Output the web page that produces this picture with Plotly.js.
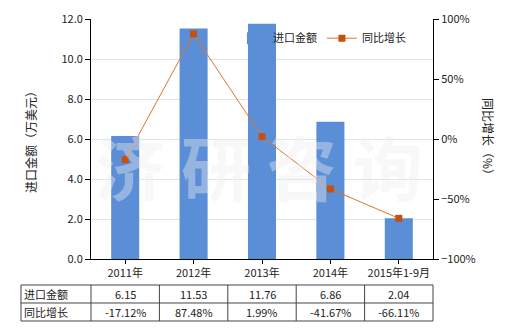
<!DOCTYPE html>
<html><head><meta charset="utf-8">
<script src="https://cdn.plot.ly/plotly-3.0.1.min.js"></script>
<style>html,body{margin:0;padding:0;background:#fff}#c{width:520px;height:330px}</style>
</head><body><div id="c"></div>
<script>
const categories = ['2011年','2012年','2013年','2014年','2015年1-9月'];
const importValues = [6.15, 11.53, 11.76, 6.86, 2.04];
const growthValues = [-17.12, 87.48, 1.99, -41.67, -66.11];
const importLabels = ['6.15','11.53','11.76','6.86','2.04'];
const growthLabels = ['-17.12%','87.48%','1.99%','-41.67%','-66.11%'];
const seriesNames = ['进口金额','同比增长'];

const FONT = 'Noto Sans CJK SC, DejaVu Sans, sans-serif';
const rowY = [-0.146, -0.221];
const A = {showarrow:false,xanchor:'center',yanchor:'middle'};
const annotations = [];
importLabels.forEach((t,i)=>annotations.push({...A,x:categories[i],xref:'x',y:rowY[0],yref:'paper',text:t,font:{size:11,color:'#222'}}));
growthLabels.forEach((t,i)=>annotations.push({...A,x:categories[i],xref:'x',y:rowY[1],yref:'paper',text:t,font:{size:11,color:'#222'}}));
seriesNames.forEach((t,i)=>annotations.push({...A,x:-0.202,xref:'paper',xanchor:'left',y:rowY[i],yref:'paper',text:t,font:{size:11,color:'#222'}}));
annotations.push({...A,x:-0.178,xref:'paper',y:0.5,yref:'paper',text:'进口金额（万美元）',textangle:-90,font:{size:12,color:'#222'}});
annotations.push({...A,x:1.164,xref:'paper',y:0.5,yref:'paper',text:'同比增长（%）',textangle:90,font:{size:12,color:'#222'}});
annotations.push({...A,x:0.49,xref:'paper',y:0.39,yref:'paper',text:'济 研 咨 询',font:{size:70,color:'rgba(238,238,238,0.4)',weight:'bold'}});

const shapes = [];
const tl = {color:'#444',width:1};
[-0.1083,-0.1833,-0.2583].forEach(y=>shapes.push({type:'line',xref:'paper',yref:'paper',x0:-0.2047,x1:1,y0:y,y1:y,line:tl}));
[-0.2047,0,0.2,0.4,0.6,0.8,1].forEach(x=>shapes.push({type:'line',xref:'paper',yref:'paper',x0:x,x1:x,y0:-0.1083,y1:-0.2583,line:tl}));

const data = [
 {type:'bar',name:seriesNames[0],x:categories,y:importValues,marker:{color:'#5a8ed6'},width:0.41},
 {type:'scatter',mode:'lines+markers',name:seriesNames[1],x:categories,y:growthValues,yaxis:'y2',
  line:{color:'#e0752a',width:1},marker:{symbol:'square',size:7,color:'#c8500f'}}
];
const layout = {
 width:520,height:330,margin:{l:91,r:87,t:19,b:71,autoexpand:false},
 paper_bgcolor:'#fff',plot_bgcolor:'#fff',
 font:{family:FONT,size:11,color:'#222'},
 showlegend:true,
 legend:{orientation:'h',x:0.415,xanchor:'left',y:0.92,yanchor:'middle',bgcolor:'rgba(0,0,0,0)',font:{size:11},itemwidth:30},
 bargap:0.59,
 xaxis:{type:'category',showline:true,linecolor:'#000',linewidth:1,ticks:'outside',ticklen:4,tickcolor:'#000',showgrid:false,tickfont:{size:11}},
 yaxis:{range:[0,12],dtick:2,tickformat:'.1f',showline:true,linecolor:'#000',ticks:'outside',ticklen:5,tickcolor:'#000',gridcolor:'#dde6e6',zeroline:false,tickfont:{size:11}},
 yaxis2:{overlaying:'y',side:'right',range:[-100,100],dtick:50,ticksuffix:'%',showline:true,linecolor:'#000',ticks:'outside',ticklen:5,tickcolor:'#000',showgrid:false,zeroline:false,tickfont:{size:11}},
 annotations:annotations,shapes:shapes
};
Plotly.newPlot('c',data,layout,{displayModeBar:false,staticPlot:true});
</script></body></html>
